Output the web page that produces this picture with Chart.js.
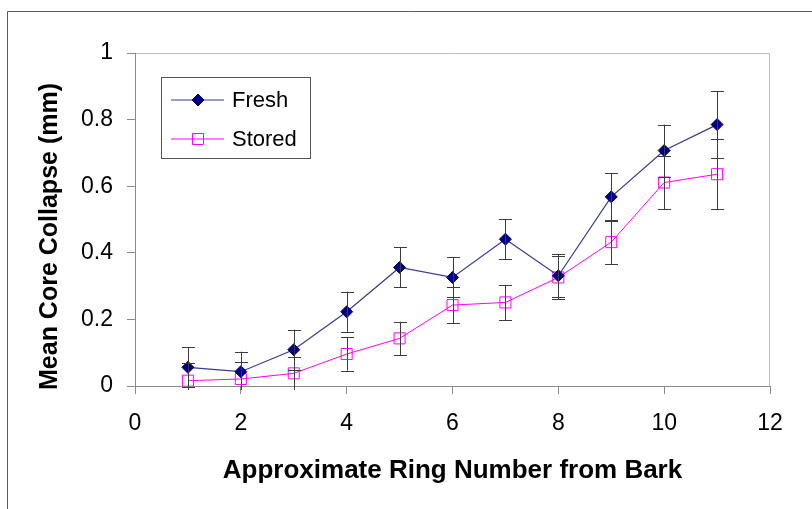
<!DOCTYPE html>
<html>
<head>
<meta charset="utf-8">
<script src="https://cdn.jsdelivr.net/npm/chart.js@4/dist/chart.umd.min.js"></script>
<style>
  html, body { margin: 0; padding: 0; background: #fff; }
  canvas { display: block; }
</style>
</head>
<body>
<canvas id="chart" width="812" height="509"></canvas>
<script>
// Values
const ringNumbers = [1, 2, 3, 4, 5, 6, 7, 8, 9, 10, 11];
const freshMeans = [0.056, 0.043, 0.109, 0.223, 0.356, 0.326, 0.441, 0.331, 0.568, 0.707, 0.785];
const freshErrors = [0.06, 0.06, 0.06, 0.06, 0.06, 0.06, 0.06, 0.065, 0.072, 0.078, 0.1];
const storedMeans = [0.016, 0.021, 0.038, 0.096, 0.143, 0.243, 0.251, 0.326, 0.432, 0.611, 0.636];
const storedErrors = [0.052, 0.05, 0.05, 0.05, 0.05, 0.055, 0.053, 0.065, 0.065, 0.08, 0.105];
const xTicks = [0, 2, 4, 6, 8, 10, 12];
const yTicks = [0, 0.2, 0.4, 0.6, 0.8, 1];

const fontFamily = "'Liberation Sans', Arial, sans-serif";
const axisGray = '#8a8a8a';

const toPoints = (xs, ys) => xs.map((x, i) => ({x: x, y: ys[i]}));

/**
 * Vertical error bars with caps, drawn from each dataset's errors array.
 */
const errorBars = {
    id: 'errorBars',
    afterDatasetsDraw(chart) {
        const ctx = chart.ctx;
        const yScale = chart.scales.y;
        const area = chart.chartArea;
        ctx.save();
        ctx.beginPath();
        ctx.rect(area.left, area.top - 10, area.right - area.left, area.bottom - area.top + 14);
        ctx.clip();
        ctx.strokeStyle = '#3c3c3c';
        ctx.lineWidth = 1;
        chart.data.datasets.forEach((ds, i) => {
            const meta = chart.getDatasetMeta(i);
            meta.data.forEach((pt, j) => {
                const v = ds.data[j].y;
                const e = ds.errors[j];
                const yTop = yScale.getPixelForValue(v + e);
                const yBot = yScale.getPixelForValue(v - e);
                const x = Math.round(pt.x) + 0.5;
                ctx.beginPath();
                ctx.moveTo(x, yTop);
                ctx.lineTo(x, yBot);
                ctx.moveTo(x - 6.5, Math.round(yTop) + 0.5);
                ctx.lineTo(x + 6.5, Math.round(yTop) + 0.5);
                ctx.moveTo(x - 6.5, Math.round(yBot) + 0.5);
                ctx.lineTo(x + 6.5, Math.round(yBot) + 0.5);
                ctx.stroke();
            });
        });
        ctx.restore();
    }
};

/**
 * Outer frame, plot box, rotated y title and the boxed legend.
 */
const decorations = {
    id: 'decorations',
    beforeDraw(chart) {
        const ctx = chart.ctx;
        const a = chart.chartArea;
        ctx.save();
        ctx.strokeStyle = '#5a5a5a';
        ctx.lineWidth = 1;
        ctx.beginPath();
        ctx.moveTo(7.5, chart.height);
        ctx.lineTo(7.5, 11.5);
        ctx.lineTo(chart.width, 11.5);
        ctx.stroke();
        ctx.strokeStyle = '#bdbdbd';
        ctx.beginPath();
        ctx.moveTo(a.left, a.top + 0.5);
        ctx.lineTo(a.right - 0.5, a.top + 0.5);
        ctx.lineTo(a.right - 0.5, a.bottom);
        ctx.stroke();
        ctx.restore();
    },
    afterDraw(chart) {
        const ctx = chart.ctx;
        const a = chart.chartArea;
        ctx.save();
        // y axis title
        ctx.translate(50, (a.top + a.bottom) / 2 + 17);
        ctx.rotate(-Math.PI / 2);
        ctx.font = "bold 25px " + fontFamily;
        ctx.fillStyle = '#000';
        ctx.textAlign = 'center';
        ctx.textBaseline = 'middle';
        ctx.fillText('Mean Core Collapse (mm)', 0, 0);
        ctx.restore();

        // legend box
        const bx = a.left + 26, by = a.top + 24, bw = 149, bh = 81;
        ctx.save();
        ctx.fillStyle = '#fff';
        ctx.fillRect(bx, by, bw, bh);
        ctx.strokeStyle = '#555';
        ctx.lineWidth = 1;
        ctx.strokeRect(bx + 0.5, by + 0.5, bw, bh);
        ctx.font = "22px " + fontFamily;
        ctx.textBaseline = 'middle';
        ctx.textAlign = 'left';
        chart.data.datasets.forEach((ds, i) => {
            const cy = by + 23 + i * 39;
            ctx.strokeStyle = ds.borderColor;
            ctx.lineWidth = ds.borderWidth;
            ctx.beginPath();
            ctx.moveTo(bx + 10, cy);
            ctx.lineTo(bx + 63, cy);
            ctx.stroke();
            ctx.fillStyle = ds.pointBackgroundColor;
            ctx.strokeStyle = ds.pointBorderColor;
            ctx.lineWidth = ds.pointBorderWidth;
            Chart.helpers.drawPoint(ctx, {
                pointStyle: ds.pointStyle,
                radius: ds.pointRadius,
                borderWidth: ds.pointBorderWidth
            }, bx + 37, cy);
            ctx.fillStyle = '#000';
            ctx.fillText(ds.label, bx + 71, cy + 1);
        });
        ctx.restore();
    }
};

const ctx = document.getElementById('chart');

new Chart(ctx, {
    type: 'line',
    data: {
        datasets: [
            {
                label: 'Fresh',
                data: toPoints(ringNumbers, freshMeans),
                errors: freshErrors,
                borderColor: '#3a3a90',
                borderWidth: 1.2,
                pointStyle: 'rectRot',
                pointRadius: 6,
                pointHoverRadius: 6,
                pointBackgroundColor: '#000080',
                pointBorderColor: '#000080',
                pointBorderWidth: 1,
                tension: 0
            },
            {
                label: 'Stored',
                data: toPoints(ringNumbers, storedMeans),
                errors: storedErrors,
                borderColor: '#ff00ff',
                borderWidth: 1,
                pointStyle: 'rect',
                pointRadius: 7.8,
                pointHoverRadius: 7.8,
                pointBackgroundColor: 'rgba(255,255,255,0)',
                pointBorderColor: '#ff00ff',
                pointBorderWidth: 1,
                tension: 0
            }
        ]
    },
    options: {
        responsive: false,
        animation: false,
        events: [],
        layout: {
            padding: {left: 0, top: 53, right: 42, bottom: 0}
        },
        plugins: {
            legend: {display: false},
            tooltip: {enabled: false}
        },
        scales: {
            x: {
                type: 'linear',
                min: 0,
                max: 12,
                afterBuildTicks: (scale) => { scale.ticks = xTicks.map(v => ({value: v})); },
                afterFit: (scale) => { scale.height = 123; },
                ticks: {
                    font: {family: fontFamily, size: 23},
                    color: '#000',
                    padding: 16,
                    maxRotation: 0,
                    callback: (v) => String(v)
                },
                grid: {
                    drawOnChartArea: false,
                    drawTicks: true,
                    tickLength: 8,
                    color: axisGray
                },
                border: {color: axisGray, width: 1},
                title: {
                    display: true,
                    text: 'Approximate Ring Number from Bark',
                    font: {family: fontFamily, size: 26, weight: 'bold'},
                    color: '#000',
                    padding: {top: 0, bottom: 23}
                }
            },
            y: {
                type: 'linear',
                min: 0,
                max: 1,
                afterBuildTicks: (scale) => { scale.ticks = yTicks.map(v => ({value: v})); },
                afterFit: (scale) => { scale.width = 135; },
                ticks: {
                    font: {family: fontFamily, size: 23},
                    color: '#000',
                    padding: 14,
                    callback: (v) => String(v)
                },
                grid: {
                    drawOnChartArea: false,
                    drawTicks: true,
                    tickLength: 8,
                    color: axisGray
                },
                border: {color: axisGray, width: 1}
            }
        }
    },
    plugins: [errorBars, decorations]
});
</script>
</body>
</html>
